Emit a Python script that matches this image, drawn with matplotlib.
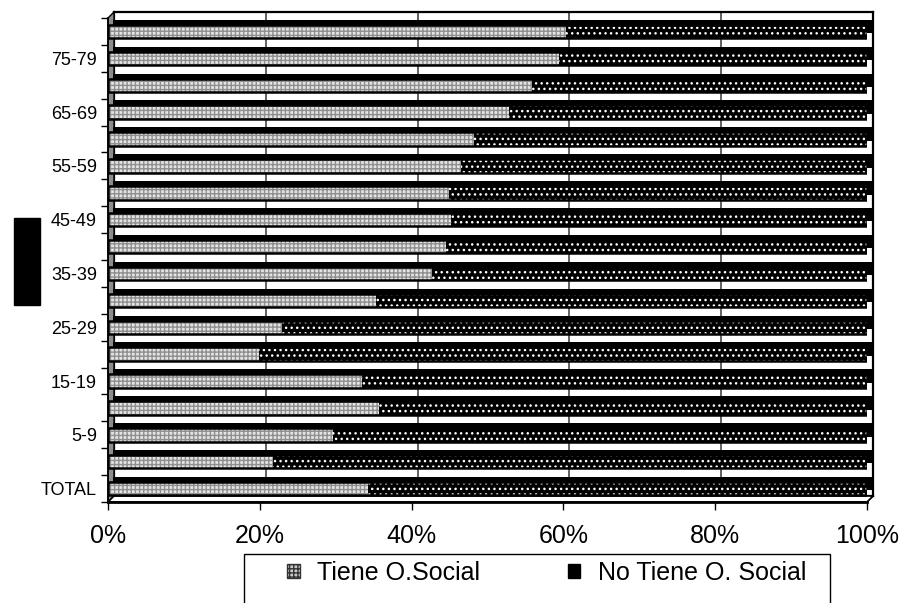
import numpy as np
import matplotlib
matplotlib.use("Agg")
import matplotlib.pyplot as plt
import matplotlib.transforms as mtransforms
from matplotlib.patches import Polygon, Rectangle, Patch
from matplotlib.lines import Line2D

plt.rcParams["font.family"] = ["Liberation Sans", "DejaVu Sans"]
plt.rcParams["hatch.linewidth"] = 1.0

# data: share of people with / without health coverage by age group (%)
categories = ["TOTAL", "0-4", "5-9", "10-14", "15-19", "20-24", "25-29", "30-34", "35-39",
              "40-44", "45-49", "50-54", "55-59", "60-64", "65-69", "70-74", "75-79", "80 y más"]
tiene = [34.3, 21.7, 29.6, 35.7, 33.5, 19.9, 22.9, 35.3, 42.7,
         44.5, 45.2, 44.9, 46.5, 48.2, 52.8, 55.9, 59.4, 60.3]
no_tiene = [65.7, 78.3, 70.4, 64.3, 66.5, 80.1, 77.1, 64.7, 57.3,
            55.5, 54.8, 55.1, 53.5, 51.8, 47.2, 44.1, 40.6, 39.7]
x_ticks = [0, 20, 40, 60, 80, 100]
x_labels = ["0%", "20%", "40%", "60%", "80%", "100%"]
series_names = ["Tiene O.Social", "No Tiene O. Social"]

# layout in pixels (figure is 901 x 603 at dpi 100)
W, H = 901, 603
FX0, FX1 = 108, 867      # front plane left/right
FY0, FY1 = 502, 18       # front plane bottom/top
DX, DY = 6, 6            # wall depth
BDX, BDY = 5, 5          # bar depth


def p(x, y):
    return (x / W, 1 - y / H)


fig = plt.figure(figsize=(W / 100, H / 100), dpi=100)

# back wall with gridlines
ax_back = fig.add_axes([(FX0 + DX) / W, (H - (FY0 - DY)) / H, (FX1 - FX0) / W, (FY0 - FY1) / H])
ax_back.set_zorder(-3)
ax_back.set_xlim(0, 100)
ax_back.set_ylim(0, 1)
ax_back.set_xticks(x_ticks[1:-1])
ax_back.set_yticks([])
ax_back.tick_params(axis="x", length=0, labelbottom=False)
ax_back.grid(axis="x", color="#555555", linewidth=1.3)
for s in ax_back.spines.values():
    s.set_linewidth(1.6)
    s.set_color("black")

# left wall and floor
left_wall = Polygon([p(FX0, FY0), p(FX0 + DX, FY0 - DY), p(FX0 + DX, FY1 - DY), p(FX0, FY1)],
                    closed=True, facecolor="#8c8c8c", edgecolor="black", linewidth=1,
                    transform=fig.transFigure, zorder=-2)
floor = Polygon([p(FX0, FY0), p(FX1, FY0), p(FX1 + DX, FY0 - DY), p(FX0 + DX, FY0 - DY)],
                closed=True, facecolor="white", edgecolor="black", linewidth=1.2,
                transform=fig.transFigure, zorder=-2)
fig.patches.extend([left_wall, floor])
for v in x_ticks:
    xp = FX0 + v / 100 * (FX1 - FX0)
    (x0, y0), (x1, y1) = p(xp, FY0), p(xp + DX, FY0 - DY)
    fig.lines.append(Line2D([x0, x1], [y0, y1], color="black", linewidth=1,
                            transform=fig.transFigure, zorder=-2))

# front axes with the bars
ax = fig.add_axes([FX0 / W, (H - FY0) / H, (FX1 - FX0) / W, (FY0 - FY1) / H])
ax.patch.set_visible(False)
y = np.arange(len(categories))
h = 0.5
full = [100] * len(categories)

shadow = ax.barh(y, full, height=h, color="black", linewidth=0, zorder=1)
off = mtransforms.ScaledTranslation(BDX / 100, BDY / 100, fig.dpi_scale_trans)
for r in shadow:
    r.set_transform(ax.transData + off)
    r.set_clip_on(False)

ax.barh(y, tiene, height=h, color="#e4e4e4", edgecolor="#8f8f8f", hatch="++++",
        linewidth=0, zorder=2)
ax.barh(y, no_tiene, left=tiene, height=h, color="black", edgecolor="white", hatch="...",
        linewidth=0, zorder=2)
ax.barh(y, full, height=h, fill=False, edgecolor="black", linewidth=1.8, zorder=3)

ax.set_xlim(0, 100)
ax.set_ylim(-0.5, len(categories) - 0.5)
ax.set_xticks(x_ticks)
ax.set_xticklabels(x_labels)
ax.tick_params(axis="x", length=6, width=1, pad=10, labelsize=18)
ax.set_yticks(y[::2])
ax.set_yticklabels(categories[::2])
ax.set_yticks(np.arange(-0.5, len(categories), 1), minor=True)
ax.tick_params(axis="y", which="major", length=0, pad=8, labelsize=13)
ax.tick_params(axis="y", which="minor", length=5, width=1)
for side in ["top", "right"]:
    ax.spines[side].set_visible(False)
ax.spines["bottom"].set_linewidth(2)
ax.spines["left"].set_linewidth(1.2)

# leftover block where the axis title was
fig.patches.append(Rectangle(p(14, 305), 26 / W, 87 / H, color="black",
                             transform=fig.transFigure))

# legend (box runs past the bottom edge)
fig.patches.append(Rectangle(p(244, 640), 586 / W, 86 / H, fill=False, edgecolor="black",
                             linewidth=1, transform=fig.transFigure, clip_on=False))
handles = [Patch(facecolor="#c8c8c8", edgecolor="#333333", hatch="++++", linewidth=1),
           Patch(facecolor="black", edgecolor="black", linewidth=1)]
fig.legend(handles, series_names, loc="upper left", bbox_to_anchor=p(287, 561), ncol=2,
           frameon=False, fontsize=18, handlelength=0.5, handleheight=0.5,
           handletextpad=0.7, columnspacing=3.5, borderpad=0, borderaxespad=0)

fig.savefig("out.png", dpi=100)
